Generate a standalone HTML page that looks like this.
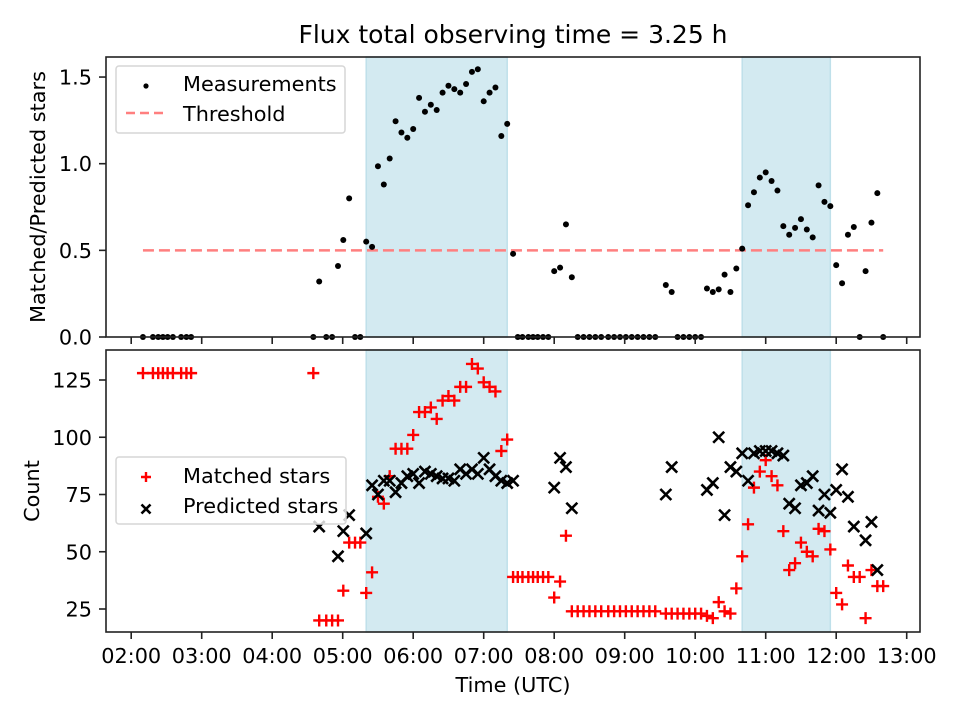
<!DOCTYPE html>
<html><head><meta charset="utf-8">
<style>
html,body{margin:0;padding:0;background:#fff;}
svg{display:block;font-family:"DejaVu Sans","Liberation Sans",sans-serif;}
</style></head>
<body>
<svg id="fig" width="960" height="720" viewBox="0 0 960 720"></svg>
<script>
// ---- data ----
const timeMin = [130,138.5,143,147,151,155.5,162.5,167,171,
275,280,286,291,296,300.5,305.5,310.5,315,320,325,
330,335,340,345,350,355,360,365,370,375,380,385,390,395,400,405,410,415,420,425,430,435,440,
445,449,453,458,462,466,470.5,475,
480,485,490,495,
500,505,510,515,520,526,531,536,541,546,551,556,561,566,
575,580,585,590,595,600,605,610,615,620,625,630,635,
640,645,650,655,660,665,670,675,680,685,690,695,700,705,710,715,
720,725,730,735,740,745,750,755,760];
const ratio = [0,0,0,0,0,0,0,0,0,
0,0.32,0,0,0.41,0.56,0.80,0,0,0.55,0.52,
0.985,0.88,1.03,1.245,1.18,1.15,1.20,1.38,1.30,1.34,1.31,1.41,1.45,1.43,1.41,1.46,1.53,1.545,1.36,1.41,1.44,1.16,1.23,
0.48,0,0,0,0,0,0,0,
0.38,0.40,0.65,0.345,
0,0,0,0,0,0,0,0,0,0,0,0,0,0,
0.30,0.26,0,0,0,0,0,0.28,0.26,0.275,0.36,0.26,0.395,
0.51,0.76,0.835,0.92,0.95,0.90,0.845,0.64,0.59,0.63,0.68,0.62,0.575,0.875,0.78,0.755,
0.415,0.31,0.59,0.635,0,0.38,0.66,0.83,0];
const matched = [128,128,128,128,128,128,128,128,128,
128,20,20,20,20,33,54,54,54,32,41,
74,71,83,95,95,95,101,111,111,113,108,116,118,116,122,122,132,130,124,122,120,94,99,
39,39,39,39,39,39,39,39,
30,37,57,24,
24,24,24,24,24,24,24,24,24,24,24,24,24,24,
23,23,23,23,23,23,23,22,21,28,24,23,34,
48,62,78,85,90,83,79,59,42,45,54,50,48,60,59,51,
32,27,44,39,39,21,42,35,35];
const predicted = [null,null,null,null,null,null,null,null,null,
null,61,null,null,48,59,66,null,null,58,79,
75,81,81,76,80,83,84,80,85,84,83,82,82,81,86,84,86,84,91,86,83,81,80,
81,null,null,null,null,null,null,null,
78,91,87,69,
null,null,null,null,null,null,null,null,null,null,null,null,null,null,
75,87,null,null,null,null,null,77,80,100,66,87,85,
93,81,93,94,94,94,93,92,71,69,79,80,83,68,75,67,
77,86,74,61,null,55,63,42,null];
const bands = [[320,440],[640,715]];
const threshold = 0.5;
const xTickHours = [2,3,4,5,6,7,8,9,10,11,12,13];
const topTicks = [0,0.5,1.0,1.5];
const botTicks = [25,50,75,100,125];

// ---- layout ----
const NS="http://www.w3.org/2000/svg";
const svg=document.getElementById('fig');
const L=106,R=920, T1=57,B1=337, T2=350,B2=632;
const FS='20.8';
const xs = m => 131.2 + (m-120)*70.5/60;
const y1 = v => 337 - v*173.3;
const y2 = c => 609 - (c-25)*2.29;
function el(tag,attrs,parent){const e=document.createElementNS(NS,tag);for(const k in attrs)e.setAttribute(k,attrs[k]);(parent||svg).appendChild(e);return e;}
function txt(s,attrs,parent){const e=el('text',attrs,parent);e.textContent=s;return e;}

const title=txt('Flux total observing time = 3.25 h',{x:513,y:43,'font-size':'25','text-anchor':'middle',fill:'#000'});



function panel(top,bot,name){
  const g=el('g',{});
  
  
  bands.forEach((b,i)=>{
    const r=el('rect',{x:xs(b[0]),y:top,width:xs(b[1])-xs(b[0]),height:bot-top,fill:'#d3eaf1',stroke:'#bfe0ea','stroke-width':1.5},g);
    
    
  });
  return g;
}
const gTop=panel(T1,B1,'top-panel');
const gBot=panel(T2,B2,'bottom-panel');

const th=el('line',{x1:xs(timeMin[0]),x2:xs(timeMin[timeMin.length-1]),y1:y1(threshold),y2:y1(threshold),stroke:'#ff7f7f','stroke-width':2.5,'stroke-dasharray':'11,5'},gTop);



timeMin.forEach((t,i)=>{
  const c=el('circle',{cx:xs(t),cy:y1(ratio[i]),r:3,fill:'#000'},gTop);
  
  
});

function plus(x,y,p,s){s=s||6;return el('path',{d:`M${x-s},${y}H${x+s}M${x},${y-s}V${y+s}`,stroke:'#ff0000','stroke-width':2.4,fill:'none'},p);}
function cross(x,y,p,s){s=s||5.5;return el('path',{d:`M${x-s},${y-s}L${x+s},${y+s}M${x-s},${y+s}L${x+s},${y-s}`,stroke:'#000','stroke-width':2.6,fill:'none'},p);}
timeMin.forEach((t,i)=>{
  const m=plus(xs(t),y2(matched[i]),gBot);
  
  
});
timeMin.forEach((t,i)=>{
  if(predicted[i]===null)return;
  const p=cross(xs(t),y2(predicted[i]),gBot);
  
  
});

[[T1,B1,'top-axes-frame'],[T2,B2,'bottom-axes-frame']].forEach(a=>{
  const r=el('rect',{x:L,y:a[0],width:R-L,height:a[1]-a[0],fill:'none',stroke:'#222','stroke-width':1.6});
  
  
});

xTickHours.forEach(h=>{
  const x=xs(h*60);
  el('line',{x1:x,x2:x,y1:B1,y2:B1+7,stroke:'#222','stroke-width':1.6});
  el('line',{x1:x,x2:x,y1:B2,y2:B2+7,stroke:'#222','stroke-width':1.6});
  const lb=txt((h<10?'0':'')+h+':00',{x:x,y:663,'font-size':FS,'text-anchor':'middle'});
  
  
});
topTicks.forEach(v=>{
  const y=y1(v);
  el('line',{x1:L-7,x2:L,y1:y,y2:y,stroke:'#222','stroke-width':1.6});
  const lb=txt(v.toFixed(1),{x:92,y:y+7.5,'font-size':FS,'text-anchor':'end'});
  
  
});
botTicks.forEach(v=>{
  const y=y2(v);
  el('line',{x1:L-7,x2:L,y1:y,y2:y,stroke:'#222','stroke-width':1.6});
  const lb=txt(String(v),{x:92,y:y+7.5,'font-size':FS,'text-anchor':'end'});
  
  
});

const xl=txt('Time (UTC)',{x:513,y:692,'font-size':FS,'text-anchor':'middle'});


const yl1=txt('Matched/Predicted stars',{x:0,y:0,'font-size':FS,'text-anchor':'middle',transform:`translate(45,${(T1+B1)/2}) rotate(-90)`});


const yl2=txt('Count',{x:0,y:0,'font-size':FS,'text-anchor':'middle',transform:`translate(39,${(T2+B2)/2}) rotate(-90)`});



const lg1=el('g',{});


el('rect',{x:116,y:66,width:229,height:67,rx:3,fill:'#fff','fill-opacity':0.8,stroke:'#d6d6d6','stroke-width':1.5},lg1);
el('circle',{cx:146,cy:86,r:2.6,fill:'#000'},lg1);
txt('Measurements',{x:183,y:91,'font-size':FS},lg1);
el('line',{x1:126,x2:168,y1:113,y2:113,stroke:'#ff7f7f','stroke-width':2.5,'stroke-dasharray':'9,5'},lg1);
txt('Threshold',{x:183,y:121,'font-size':FS},lg1);

const lg2=el('g',{});


el('rect',{x:116,y:457,width:230,height:67,rx:3,fill:'#fff','fill-opacity':0.8,stroke:'#d6d6d6','stroke-width':1.5},lg2);
plus(146,477,lg2,5);
txt('Matched stars',{x:183,y:483,'font-size':FS},lg2);
cross(146,509,lg2,4.5);
txt('Predicted stars',{x:183,y:513,'font-size':FS},lg2);
</script>
</body></html>
